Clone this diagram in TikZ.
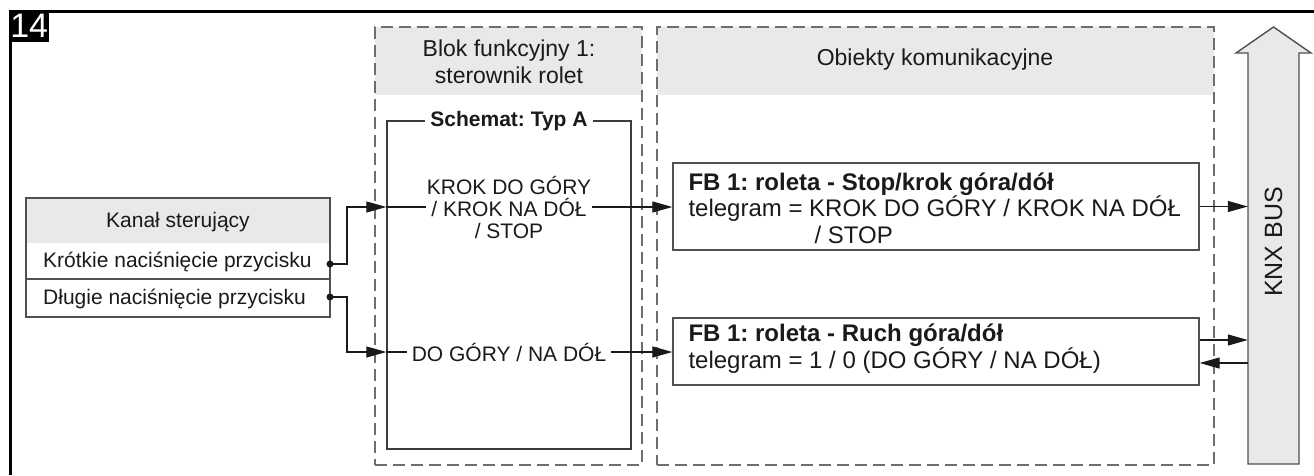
\documentclass[tikz,border=0pt]{standalone}
\usepackage{fontspec}
\setmainfont{Liberation Sans}
\usetikzlibrary{arrows.meta,calc}
\definecolor{hdrfill}{RGB}{233,233,233}
\definecolor{ink}{RGB}{26,26,26}
\definecolor{edgegray}{RGB}{80,80,80}
\definecolor{dashgray}{RGB}{110,110,110}
\frenchspacing
\tikzset{
  every node/.style={text=ink},
  smalltxt/.style={font=\fontsize{21}{22}\selectfont},
  headtxt/.style={font=\fontsize{23}{27}\selectfont},
  bigtxt/.style={font=\fontsize{24}{26}\selectfont},
  groupbox/.style={draw=dashgray, line width=1.8pt, dash pattern=on 12pt off 6pt, minimum width=#1},
  solidbox/.style={draw=edgegray, line width=1.4pt, inner sep=0pt},
  objbox/.style={solidbox, minimum width=526pt},
  objtext/.style={bigtxt, align=left, anchor=west, inner sep=2pt},
  flow/.style={draw=ink, line width=1.2pt, -{Triangle[length=20pt,width=11pt]}},
  plainline/.style={draw=ink, line width=1.2pt},
  dotend/.style={fill=ink}
}
\begin{document}
\begin{tikzpicture}[x=1pt,y=-1pt]
\useasboundingbox (0,0) rectangle (1314,475);
\fill[white] (0,0) rectangle (1314,475);

% frame and figure number
\draw[line width=3pt] (10.5,475) -- (10.5,11.5) -- (1314,11.5);
\node[fill=black, text=white, font=\fontsize{34}{34}\selectfont, minimum width=40pt,
      minimum height=31pt, inner sep=0pt, anchor=north west] (fignum) at (9,10.5) {14};

% header fills of the two groups
\fill[hdrfill] (375,27) rectangle (642,95);
\fill[hdrfill] (657,27) rectangle (1214,95);

% group boxes
\node[groupbox=267pt, minimum height=438pt, inner sep=0pt] (fbgroup) at (508.5,246) {};
\node[groupbox=557pt, minimum height=438pt, inner sep=0pt] (objgroup) at (935.5,246) {};
\node[headtxt, align=center] (fbhead) at (509,62) {Blok funkcyjny 1:\\sterownik rolet};
\node[headtxt] (objhead) at (935,60) {Obiekty komunikacyjne};

% control channel box
\fill[hdrfill] (26,198) rectangle (330,243);
\node[solidbox, minimum width=304pt, minimum height=119pt] (kanal) at (178,257.5) {};
\draw[edgegray, line width=1.4pt] (26,279) -- (330,279);
\node[smalltxt] (kanalhead) at (178,222) {Kanał sterujący};
\node[smalltxt, anchor=west, inner sep=2pt] (krotkie) at (41,262) {Krótkie naciśnięcie przycisku};
\node[smalltxt, anchor=west, inner sep=2pt] (dlugie) at (41,299) {Długie naciśnięcie przycisku};
\coordinate (k1) at (330,264);
\coordinate (k2) at (330,297);

% scheme box
\node[solidbox, draw=ink!85, minimum width=244pt, minimum height=328pt] (schemat) at (509,285) {};
\node[font=\fontsize{21}{22}\selectfont\bfseries, fill=white, inner xsep=5pt, inner ysep=2pt]
  (schtitle) at (509,121) {Schemat: Typ A};
\node[smalltxt, align=center, inner xsep=1pt, inner ysep=0pt] (t1) at (509,207)
  {KROK DO GÓRY\\/ KROK NA DÓŁ\\/ STOP};
\node[smalltxt, inner xsep=5pt, inner ysep=0pt] (t2) at (509,352) {DO GÓRY / NA DÓŁ};
\coordinate (in1) at (schemat.west |- t1.center);
\coordinate (in2) at (schemat.west |- t2.center);

% communication objects
\node[objbox, minimum height=87pt] (fb1) at (936,206.5) {};
\node[objbox, minimum height=67pt] (fb2) at (936,351.5) {};
\node[objtext, font=\fontsize{24}{26.5}\selectfont] (fb1text) at ([xshift=14pt, yshift=-1.5pt]fb1.west)
  {{\bfseries FB 1: roleta - Stop/krok góra/dół}\\
   telegram = KROK DO GÓRY / KROK NA DÓŁ\\
   \hspace*{126pt}/ STOP};
\node[objtext, font=\fontsize{24}{24.5}\selectfont] (fb2text) at ([xshift=14pt, yshift=2.5pt]fb2.west)
  {{\bfseries FB 1: roleta - Ruch góra/dół}\\
   telegram = 1 / 0 (DO GÓRY / NA DÓŁ)};

% KNX bus
\filldraw[fill=hdrfill, draw=edgegray, line width=1.4pt, line join=miter]
  (1248,464) -- (1299,464) -- (1299,53) -- (1311,53) -- (1273.5,27)
  -- (1236,53) -- (1248,53) -- cycle;
\node[minimum width=51pt, minimum height=411pt, inner sep=0pt] (bus) at (1273.5,258.5) {};
\node[rotate=90, font=\fontsize{25}{26}\selectfont] (buslabel) at (1273.5,242) {KNX BUS};

% connectors
\draw[flow] (k1) -- (347,264) |- (in1);
\draw[flow] (k2) -- (347,297) |- (in2);
\fill[dotend] (k1) circle (3.5pt);
\fill[dotend] (k2) circle (3.5pt);
\draw[plainline] (in1) -- (t1.west);
\draw[plainline] (in2) -- (t2.west);
\draw[flow] (t1.east) -- (t1.east -| fb1.west);
\draw[flow] (t2.east) -- (t2.east -| fb2.west);
\draw[flow] (fb1.east) -- (fb1.east -| bus.west);
\draw[flow] ([yshift=11.5pt]fb2.east) -- ([yshift=11.5pt]fb2.east -| bus.west);
\draw[flow] ([yshift=-11.5pt]fb2.east -| bus.west) -- ([yshift=-11.5pt]fb2.east);
\end{tikzpicture}
\end{document}
